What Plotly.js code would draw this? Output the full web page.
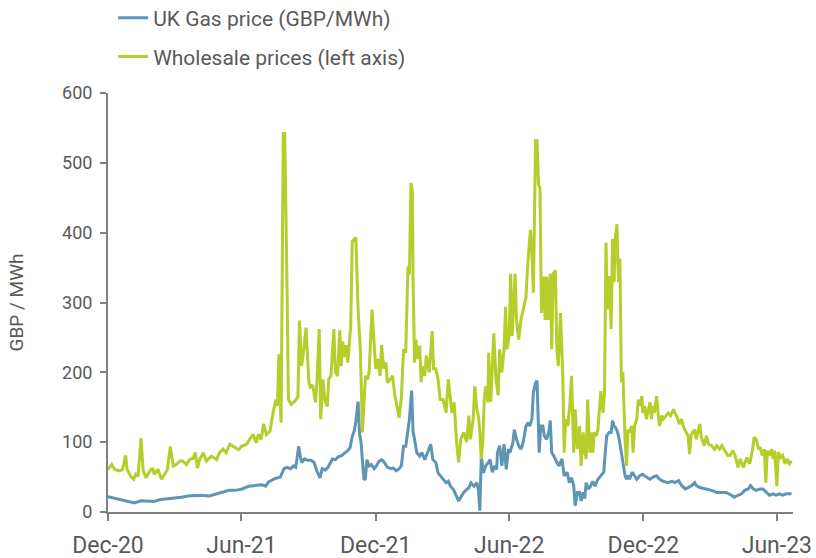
<!DOCTYPE html>
<html>
<head>
<meta charset="utf-8">
<script src="https://cdn.plot.ly/plotly-3.0.1.min.js"></script>
<style>
html,body{margin:0;padding:0;background:#fff;}
#chart{width:816px;height:558px;}
</style>
</head>
<body>
<div id="chart"></div>
<script>
// x values are days since 1 Dec 2020
const tickDays = [0, 182, 365, 547, 730, 912];
const tickLabels = ['Dec-20', 'Jun-21', 'Dec-21', 'Jun-22', 'Dec-22', 'Jun-23'];
const yTicks = [0, 100, 200, 300, 400, 500, 600];

const gasDays = [0,9,18,27,36,45,54,63,72,81,90,100,109,118,127,138,147,156,165,174,183,192,201,210,215,219,228,235,240,244,249,
253,256,260,262,264,268,272,277,281,285,289,292,296,300,303,306,310,314,319,323,327,330,333,336,338,341,343,345,347,349,351,353,356,359,363,366,369,373,376,381,386,
389,393,397,400,403,406,409,411,414,416,418,421,425,428,432,436,440,443,447,450,453,457,461,464,467,471,475,478,481,485,489,492,495,499,503,505,507,509,512,515,518,
521,524,527,530,531,534,537,540,543,546,548,552,554,557,560,563,566,570,573,575,578,580,583,585,586,588,590,593,595,598,601,603,605,608,612,615,619,622,626,629,632,635,637,640,
643,645,648,650,652,655,658,661,664,668,672,676,678,680,683,686,688,690,692,695,697,700,702,705,707,709,711,715,718,721,725,729,734,739,743,748,752,757,763,769,
773,778,782,787,791,796,800,802,807,816,823,830,836,843,850,854,859,864,868,873,876,880,884,889,893,898,902,907,911,916,920,925,932];
const gasValues = [22,20,18,16,13,16,16,15,18,19,19,21,23,24,24,23,26,29,31,31,33,37,38,39,37,43,48,50,62,64,62,
66,64,94,81,71,76,74,74,71,58,49,62,60,64,70,76,75,79,81,84,88,92,108,117,130,158,112,100,73,46,48,75,66,68,62,66,72,75,72,64,62,
63,59,62,66,94,94,118,133,174,114,104,85,80,85,75,85,97,75,71,56,52,47,42,44,37,32,23,16,21,28,32,35,42,37,42,32,2,80,56,66,70,
75,57,66,61,85,95,66,97,61,90,85,99,118,104,95,90,99,123,128,123,133,171,185,188,143,85,123,123,109,104,114,131,85,80,71,66,76,52,57,42,49,38,9,28,
28,16,28,19,42,33,37,44,37,47,52,57,85,109,114,114,131,123,121,114,104,85,66,52,47,52,47,57,52,47,52,54,50,47,50,52,47,44,42,44,
42,45,38,33,35,38,42,38,35,33,31,28,28,28,24,21,24,26,31,33,38,33,31,33,33,28,24,26,24,26,24,26,26];

const wholesaleDays = [0,5,9,16,20,24,26,31,35,38,41,45,48,52,57,61,63,68,73,77,81,85,89,93,98,102,107,111,116,119,122,
125,130,134,141,148,152,157,161,166,171,178,182,189,193,198,202,205,209,212,216,221,225,229,231,233,236,239,241,242,244,246,250,255,
259,261,264,267,270,274,276,279,283,285,288,290,293,296,299,301,304,308,310,313,316,318,320,323,325,327,331,333,335,338,341,344,347,349,351,354,356,360,363,365,368,371,373,376,379,381,385,388,
391,397,400,403,406,409,411,413,415,416,418,420,422,425,427,429,432,434,438,442,444,447,450,453,457,461,464,466,469,472,475,478,481,485,489,492,494,498,500,503,505,507,509,511,513,515,518,
519,522,526,529,532,534,537,540,542,544,547,549,551,553,555,557,560,563,566,570,572,576,578,580,583,585,587,589,591,594,596,598,600,603,605,607,610,612,614,617,620,622,624,627,630,632,635,637,640,
643,645,648,650,652,654,657,659,661,663,666,668,670,672,675,677,679,681,684,686,688,690,692,694,696,698,700,702,705,707,709,711,714,716,718,721,723,725,728,729,732,734,736,739,741,743,745,748,750,752,755,757,761,764,767,771,
773,776,779,782,785,788,791,793,795,797,800,802,804,807,809,813,816,819,823,827,830,834,837,841,845,848,852,855,859,862,866,868,871,875,879,881,884,887,889,892,895,897,899,902,905,907,909,912,914,917,920,923,926,929,932];
const wholesaleValues = [61,68,61,59,61,81,61,51,47,54,51,106,59,49,59,63,54,61,47,54,61,94,66,68,73,73,68,75,77,85,63,
75,85,73,80,75,85,90,85,97,94,89,94,97,104,111,99,111,104,126,111,116,142,161,152,226,128,542,542,482,331,161,154,159,
165,274,209,233,264,185,179,182,157,190,262,133,190,159,151,190,195,262,200,195,260,209,244,222,239,214,267,388,390,393,290,233,114,152,195,190,200,290,229,205,219,195,239,205,214,185,190,195,
168,135,164,233,228,352,340,471,460,330,214,247,219,238,186,209,195,224,200,259,205,205,190,161,161,142,190,171,142,157,104,71,104,114,100,138,104,133,180,147,138,114,76,100,161,180,157,
228,158,256,190,167,233,200,233,294,233,252,341,252,294,341,275,247,275,289,308,350,404,371,314,532,532,469,464,285,337,275,337,275,341,233,341,346,233,209,285,200,85,133,123,157,195,85,147,90,
123,66,114,85,76,161,85,114,85,114,109,118,142,173,142,171,386,290,338,262,391,329,395,412,329,363,186,200,104,66,118,114,123,85,123,133,161,152,166,142,152,133,142,157,133,152,142,166,142,123,138,133,138,142,138,147,
142,136,126,133,121,114,109,83,109,114,118,104,114,126,107,95,109,97,95,90,95,90,95,88,81,81,88,81,64,76,64,69,78,69,90,107,104,90,93,81,90,42,88,81,90,76,88,37,86,78,81,69,76,69,73];

const fam = 'Roboto, "Open Sans", sans-serif';

const traces = [
  {
    x: gasDays, y: gasValues, type: 'scatter', mode: 'lines',
    name: 'UK Gas price (GBP/MWh)',
    line: {color: '#5e95b6', width: 3},
    legend: 'legend'
  },
  {
    x: wholesaleDays, y: wholesaleValues, type: 'scatter', mode: 'lines',
    name: 'Wholesale prices (left axis)',
    line: {color: '#b6cd2c', width: 3},
    legend: 'legend2'
  }
];

const layout = {
  width: 816, height: 558,
  margin: {l: 108, r: 23, t: 93, b: 46, autoexpand: false},
  paper_bgcolor: '#ffffff', plot_bgcolor: '#ffffff',
  font: {family: fam, color: '#595959'},
  showlegend: true,
  xaxis: {
    range: [0, 934], tickmode: 'array', tickvals: tickDays, ticktext: tickLabels,
    showgrid: false, zeroline: false, showline: true, linecolor: '#808080', linewidth: 2,
    ticks: 'outside', ticklen: 7, tickwidth: 2, tickcolor: '#808080',
    tickfont: {family: fam, size: 23, color: '#595959'},
    ticklabelstandoff: 4
  },
  yaxis: {
    range: [0, 600], tickmode: 'array', tickvals: yTicks,
    showgrid: false, zeroline: false, showline: true, linecolor: '#808080', linewidth: 2,
    ticks: 'outside', ticklen: 6, tickwidth: 2, tickcolor: '#808080',
    tickfont: {family: fam, size: 18, color: '#595959'},
    ticklabelstandoff: 4,
    title: {text: 'GBP / MWh', font: {family: fam, size: 19, color: '#595959'}, standoff: 33}
  },
  legend: {
    x: 0.0075, y: 1.179, xanchor: 'left', yanchor: 'middle',
    bgcolor: 'rgba(0,0,0,0)', font: {family: fam, size: 21, color: '#595959'}
  },
  legend2: {
    x: 0.0075, y: 1.086, xanchor: 'left', yanchor: 'middle',
    bgcolor: 'rgba(0,0,0,0)', font: {family: fam, size: 21, color: '#595959'}
  }
};

Plotly.newPlot('chart', traces, layout, {displayModeBar: false, staticPlot: true});
</script>
</body>
</html>
